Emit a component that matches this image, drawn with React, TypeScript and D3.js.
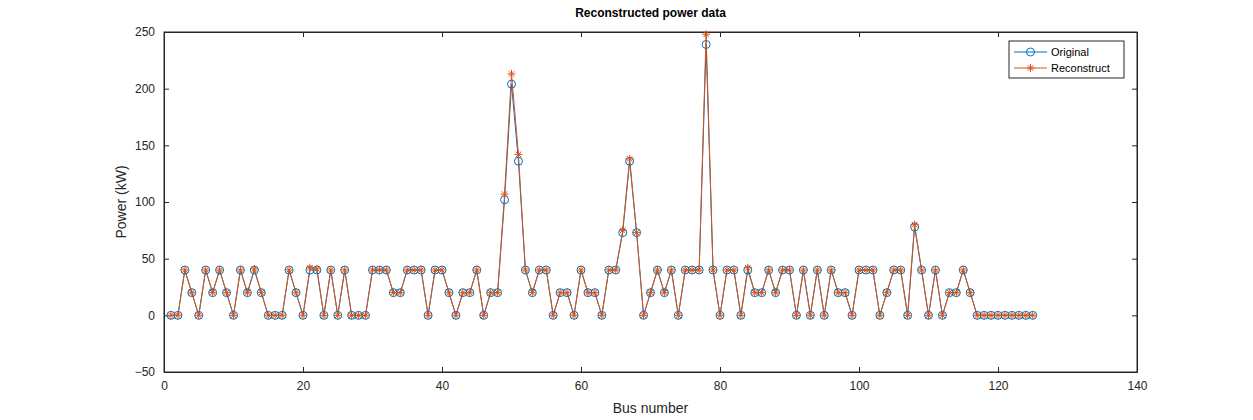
import React, { useEffect, useRef } from "react";
import * as d3 from "d3";

const original = [0,0,40,20,0,40,20,40,20,0,40,20,40,20,0,0,0,40,20,0,40,40,0,40,0,40,0,0,0,40,40,40,20,20,40,40,40,0,40,40,20,0,20,20,40,0,20,20,102,204,136,40,20,40,40,0,20,20,0,40,20,20,0,40,40,73,136,73,0,20,40,20,40,0,40,40,40,239,40,0,40,40,0,40,20,20,40,20,40,40,0,40,0,40,0,40,20,20,0,40,40,40,0,20,40,40,0,78,40,0,40,0,20,20,40,20,0,0,0,0,0,0,0,0,0];
const reconstruct = [0,0,40,20,0,40,20,40,20,0,40,20,41,20,0,0,0,40,20,0,42,41,0,40,0,40,0,0,0,40,40,40,20,20,40,40,40,0,40,40,20,0,20,20,40,0,20,20,107,213,142,40,20,40,40,0,20,20,0,40,20,20,0,40,40,75,138,73,0,20,40,20,40,0,40,40,40,248,40,0,40,40,0,42,20,20,40,20,40,40,0,40,0,40,0,40,20,20,0,40,40,40,0,20,40,40,0,80,40,0,40,0,20,20,40,20,0,0,0,0,0,0,0,0,0];
const xTicks = [0,20,40,60,80,100,120,140];
const yTicks = [-50,0,50,100,150,200,250];

export default function App() {
  const ref = useRef<SVGSVGElement>(null);
  useEffect(() => {
    const W = 1253, H = 420;
    const m = { left: 164, right: 116, top: 32, bottom: 48 };
    const svg = d3.select(ref.current);
    svg.selectAll("*").remove();
    const font = "Helvetica, Arial, 'Liberation Sans', sans-serif";
    const x = d3.scaleLinear().domain([0, 140]).range([m.left, W - m.right]);
    const y = d3.scaleLinear().domain([-50, 250]).range([H - m.bottom, m.top]);

    svg.append("rect").attr("width", W).attr("height", H).attr("fill", "#fff");
    svg.append("rect").attr("x", x(0)).attr("y", y(250)).attr("width", x(140) - x(0))
      .attr("height", y(-50) - y(250)).attr("fill", "#fff").attr("stroke", "#262626").attr("stroke-width", 1);

    const gx = svg.append("g").attr("transform", `translate(0,${y(-50)})`)
      .call(d3.axisBottom(x).tickValues(xTicks).tickSizeInner(-5).tickSizeOuter(0).tickPadding(9));
    const gx2 = svg.append("g").attr("transform", `translate(0,${y(250)})`)
      .call(d3.axisTop(x).tickValues(xTicks).tickSizeInner(-5).tickSizeOuter(0).tickFormat(() => ""));
    const gy = svg.append("g").attr("transform", `translate(${x(0)},0)`)
      .call(d3.axisLeft(y).tickValues(yTicks).tickSizeInner(-5).tickSizeOuter(0).tickPadding(9));
    const gy2 = svg.append("g").attr("transform", `translate(${x(140)},0)`)
      .call(d3.axisRight(y).tickValues(yTicks).tickSizeInner(-5).tickSizeOuter(0).tickFormat(() => ""));
    [gx, gx2, gy, gy2].forEach((g) => {
      g.select(".domain").attr("stroke", "#262626");
      g.selectAll("line").attr("stroke", "#262626");
      g.selectAll("text").attr("fill", "#262626").attr("font-size", 12).attr("font-family", font);
    });

    const idx = original.map((_, i) => i + 1);
    const line = (vals: number[]) => d3.line<number>().x((i) => x(i)).y((i) => y(vals[i - 1]))(idx);

    svg.append("path").attr("d", line(original)).attr("fill", "none").attr("stroke", "#0072BD").attr("stroke-width", 1);
    svg.append("path").attr("d", line(reconstruct)).attr("fill", "none").attr("stroke", "#D95319").attr("stroke-width", 1);

    svg.append("g").selectAll("circle").data(idx).enter().append("circle")
      .attr("cx", (i) => x(i)).attr("cy", (i) => y(original[i - 1])).attr("r", 4)
      .attr("fill", "none").attr("stroke", "#0072BD").attr("stroke-width", 1);

    const star = (g: any, cx: number, cy: number) => {
      const s = 4;
      const d = `M${cx - s},${cy}L${cx + s},${cy}M${cx},${cy - s}L${cx},${cy + s}M${cx - s * 0.7},${cy - s * 0.7}L${cx + s * 0.7},${cy + s * 0.7}M${cx - s * 0.7},${cy + s * 0.7}L${cx + s * 0.7},${cy - s * 0.7}`;
      g.append("path").attr("d", d).attr("stroke", "#D95319").attr("stroke-width", 1).attr("fill", "none");
    };
    const sg = svg.append("g");
    idx.forEach((i) => star(sg, x(i), y(reconstruct[i - 1])));

    svg.append("text").attr("x", (x(0) + x(140)) / 2).attr("y", 17).attr("text-anchor", "middle")
      .attr("font-size", 12).attr("font-weight", "bold").attr("font-family", font).attr("fill", "#000")
      .text("Reconstructed power data");
    svg.append("text").attr("x", (x(0) + x(140)) / 2).attr("y", 413).attr("text-anchor", "middle")
      .attr("font-size", 14).attr("font-family", font).attr("fill", "#262626").text("Bus number");
    svg.append("text").attr("transform", `translate(126,${(y(-50) + y(250)) / 2}) rotate(-90)`)
      .attr("text-anchor", "middle").attr("font-size", 14).attr("font-family", font).attr("fill", "#262626")
      .text("Power (kW)");

    const lg = svg.append("g").attr("transform", "translate(1009,41)");
    lg.append("rect").attr("width", 115).attr("height", 37).attr("fill", "#fff").attr("stroke", "#262626");
    lg.append("line").attr("x1", 5).attr("x2", 38).attr("y1", 11).attr("y2", 11).attr("stroke", "#0072BD");
    lg.append("circle").attr("cx", 21.5).attr("cy", 11).attr("r", 4).attr("fill", "none").attr("stroke", "#0072BD");
    lg.append("line").attr("x1", 5).attr("x2", 38).attr("y1", 27).attr("y2", 27).attr("stroke", "#D95319");
    star(lg, 21.5, 27);
    lg.append("text").attr("x", 42).attr("y", 15).attr("font-size", 11).attr("font-family", font).text("Original");
    lg.append("text").attr("x", 42).attr("y", 31).attr("font-size", 11).attr("font-family", font).text("Reconstruct");
  }, []);
  return <svg ref={ref} width={1253} height={420} style={{ position: "absolute", left: 0, top: 0 }} />;
}
